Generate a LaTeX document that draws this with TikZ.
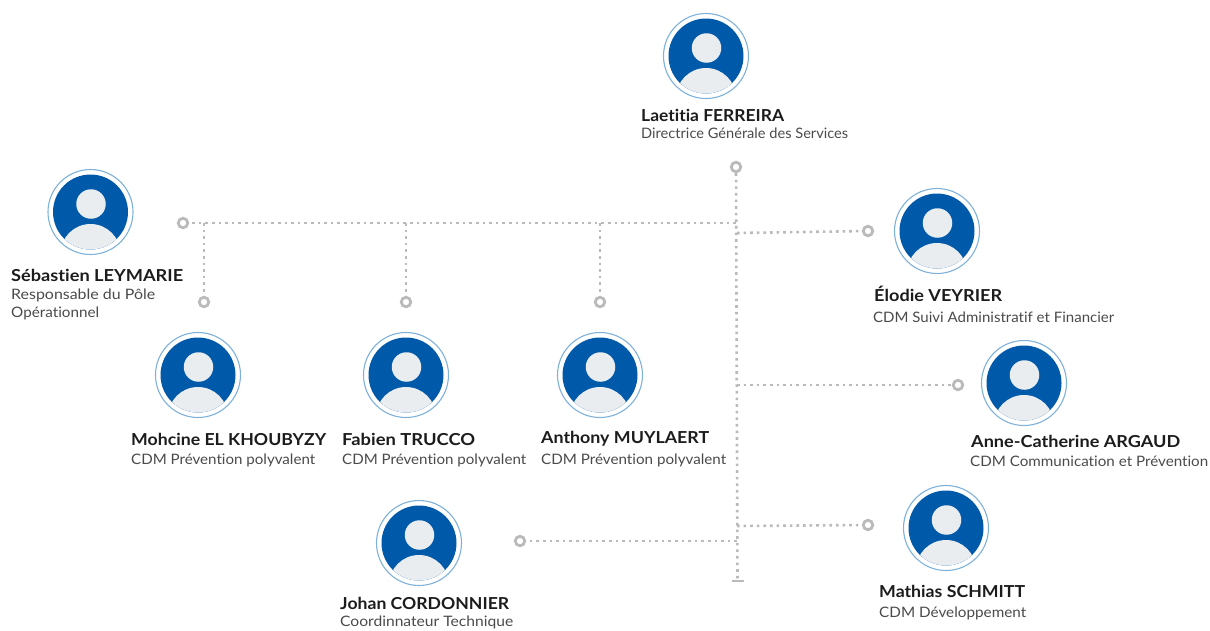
\documentclass[tikz,border=0pt]{standalone}
\usepackage{fontspec}
\setmainfont{Lato}[Ligatures=NoCommon]
\definecolor{discblue}{HTML}{0059A9}
\definecolor{ringblue}{HTML}{7FB2DA}
\definecolor{bodygrey}{HTML}{E9EDF0}
\definecolor{dotgrey}{HTML}{BABABA}
\definecolor{nameink}{HTML}{1C1C1C}
\definecolor{roleink}{HTML}{4A4A4A}
\tikzset{
  ringout/.style={circle,draw=ringblue,fill=white,line width=1.1pt,minimum size=85pt,inner sep=0pt},
  disc/.style={circle,fill=discblue,minimum size=75pt,inner sep=0pt},
  headnode/.style={circle,fill=bodygrey,minimum size=29.5pt,inner sep=0pt},
  term/.style={circle,draw=dotgrey,fill=white,line width=2.8pt,minimum size=9.5pt,inner sep=0pt},
  dots/.style={draw=dotgrey,line width=2.6pt,dash pattern=on 2.6pt off 4pt},
  nametext/.style={anchor=base west,inner sep=0pt,text=nameink,font=\fontsize{16.5}{18}\selectfont\bfseries},
  roletext/.style={anchor=base west,inner sep=0pt,text=roleink,font=\fontsize{14.4}{17}\selectfont},
}
\newcommand{\avatarat}[3]{%
  \node[ringout] (#1) at (#2,#3) {};
  \node[disc] (#1disc) at (#2,#3) {};
  \begin{scope}
    \clip (#2,#3) circle (37.5);
    \fill[bodygrey] (#2,#3+42) circle (30);
  \end{scope}
  \node[headnode] (#1head) at (#2+0.5,#3-8) {};
}
% set #2 at the width #1 (in pt) by stretching it horizontally only
\newsavebox{\fitbox}
\newcommand{\fitw}[2]{%
  \sbox{\fitbox}{#2}%
  \pgfmathsetmacro{\fitratio}{#1/(\wd\fitbox/1pt)}%
  \scalebox{\fitratio}[1]{\usebox{\fitbox}}%
}
\begin{document}
\begin{tikzpicture}[x=1pt,y=-1pt]
\useasboundingbox (0,0) rectangle (1210,630);
\avatarat{ferreira}{706}{56}
\avatarat{leymarie}{90.5}{212}
\avatarat{khoubyzy}{198}{375}
\avatarat{trucco}{406}{375}
\avatarat{muylaert}{600}{375}
\avatarat{veyrier}{937}{231}
\avatarat{argaud}{1024}{383}
\avatarat{schmitt}{946}{528}
\avatarat{cordonnier}{419}{543}
% terminals
\node[term] (t1) at (736,167) {};
\node[term] (t2) at (183,223) {};
\node[term] (t3) at (204,302) {};
\node[term] (t4) at (406,302) {};
\node[term] (t5) at (600,302) {};
\node[term] (t6) at (868,231) {};
\node[term] (t7) at (958,385) {};
\node[term] (t8) at (868,525) {};
\node[term] (t9) at (520,541) {};
% junctions
\coordinate (jtop) at (736,223);
\coordinate (j204) at (204,223);
\coordinate (j406) at (406,223);
\coordinate (j600) at (600,223);
\coordinate (jv) at (737,233);
\coordinate (ja) at (737,385);
\coordinate (jc) at (737,541);
\coordinate (js) at (737,526);
\coordinate (tend) at (737.5,581);
% connectors
\draw[dots] (t1) -- (tend);
\draw[dots] (jtop) -- (t2);
\draw[dots] (j204) -- (t3);
\draw[dots] (j406) -- (t4);
\draw[dots] (j600) -- (t5);
\draw[dots] (jv) -- (t6);
\draw[dots] (ja) -- (t7);
\draw[dots] (js) -- (t8);
\draw[dots] (jc) -- (t9);
\draw[dotgrey,line width=2.6pt] ([xshift=-5.5pt]tend) -- ([xshift=6pt]tend);
% labels
\node[nametext] (n1) at (641,121) {\fitw{143}{Laetitia FERREIRA}};
\node[roletext] (r1) at (641,138) {\fitw{207}{Directrice Générale des Services}};
\node[nametext] (n2) at (11,281) {\fitw{172}{Sébastien LEYMARIE}};
\node[roletext] (r2) at (11,299) {\fitw{144}{Responsable du Pôle}};
\node[roletext] (r2b) at (11,317) {\fitw{88}{Opérationnel}};
\node[nametext] (n3) at (131,445) {\fitw{195}{Mohcine EL KHOUBYZY}};
\node[roletext] (r3) at (131,464) {\fitw{184}{CDM Prévention polyvalent}};
\node[nametext] (n4) at (342,445) {\fitw{133}{Fabien TRUCCO}};
\node[roletext] (r4) at (342,464) {\fitw{184}{CDM Prévention polyvalent}};
\node[nametext] (n5) at (541,443) {\fitw{168}{Anthony MUYLAERT}};
\node[roletext] (r5) at (541,464) {\fitw{185}{CDM Prévention polyvalent}};
\node[nametext] (n6) at (874,301) {\fitw{128}{Élodie VEYRIER}};
\node[roletext] (r6) at (873,322) {\fitw{241}{CDM Suivi Administratif et Financier}};
\node[nametext] (n7) at (971,447) {\fitw{209}{Anne-Catherine ARGAUD}};
\node[roletext] (r7) at (970,466) {\fitw{238}{CDM Communication et Prévention}};
\node[nametext] (n8) at (879,597) {\fitw{146}{Mathias SCHMITT}};
\node[roletext] (r8) at (879,617) {\fitw{147}{CDM Développement}};
\node[nametext] (n9) at (340,609) {\fitw{169}{Johan CORDONNIER}};
\node[roletext] (r9) at (340,626.5) {\fitw{173}{Coordinnateur Technique}};
\end{tikzpicture}
\end{document}
